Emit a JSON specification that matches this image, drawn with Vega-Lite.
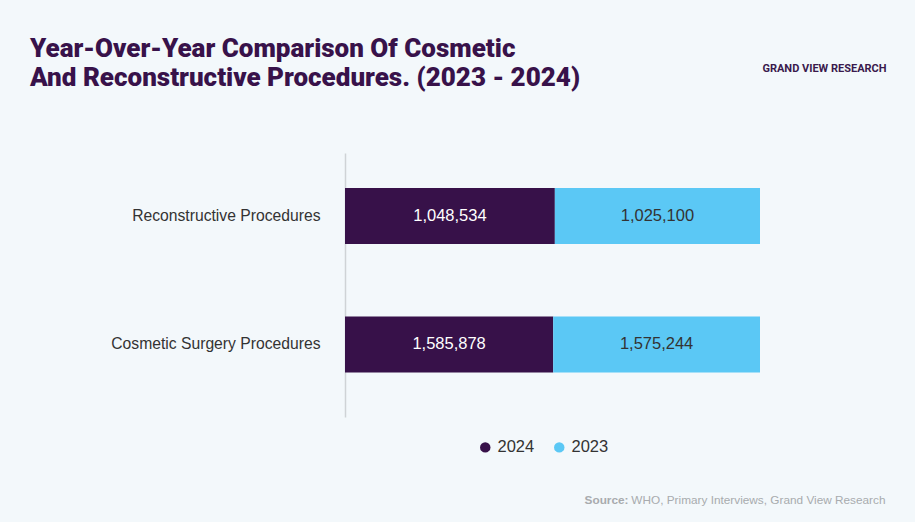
{
  "$schema": "https://vega.github.io/schema/vega-lite/v6.json",
  "autosize": "none",
  "width": 415,
  "height": 264,
  "padding": {"left": 345, "top": 153, "right": 155, "bottom": 105},
  "background": "#f3f8fb",
  "title": {
    "text": ["Year-Over-Year Comparison Of Cosmetic", "And Reconstructive Procedures. (2023 - 2024)"],
    "anchor": "start",
    "frame": "group",
    "font": "Roboto",
    "fontSize": 26,
    "fontWeight": 900,
    "color": "#38124a",
    "lineHeight": 29,
    "dx": -315,
    "dy": 33
  },
  "data": {
    "values": [
      {"procedure": "Reconstructive Procedures", "year": "2024", "value": 1048534},
      {"procedure": "Reconstructive Procedures", "year": "2023", "value": 1025100},
      {"procedure": "Cosmetic Surgery Procedures", "year": "2024", "value": 1585878},
      {"procedure": "Cosmetic Surgery Procedures", "year": "2023", "value": 1575244}
    ]
  },
  "transform": [
    {"stack": "value", "groupby": ["procedure"], "offset": "normalize", "sort": [{"field": "year", "order": "descending"}], "as": ["s0", "s1"]},
    {"calculate": "(datum.s0 + datum.s1) / 2", "as": "mid"}
  ],
  "encoding": {
    "y": {
      "field": "procedure",
      "type": "nominal",
      "sort": ["Reconstructive Procedures", "Cosmetic Surgery Procedures"],
      "scale": {"paddingInner": 0.564, "paddingOuter": 0.309, "align": 0.44},
      "axis": {
        "title": "GRAND VIEW RESEARCH",
        "titleAngle": 0,
        "titleX": 479,
        "titleY": -85,
        "titleAlign": "center",
        "titleBaseline": "middle",
        "titleFont": "Roboto",
        "titleFontSize": 11,
        "titleFontWeight": "bold",
        "titleColor": "#3a1a4d",
        "domain": true,
        "domainColor": "#cfd3d6",
        "domainWidth": 1.5,
        "ticks": false,
        "labelPadding": 25,
        "labelLimit": 300,
        "labelFont": "Liberation Sans",
        "labelFontSize": 15.7,
        "labelColor": "#333333"
      }
    }
  },
  "layer": [
    {
      "mark": {"type": "bar"},
      "encoding": {
        "x": {
          "field": "s0",
          "type": "quantitative",
          "scale": {"domain": [0, 1], "nice": false},
          "axis": {
            "orient": "bottom",
            "title": "WHO, Primary Interviews, Grand View Research",
            "titleX": 540,
            "titleY": 86,
            "titleAlign": "right",
            "titleBaseline": "alphabetic",
            "titleFont": "Liberation Sans",
            "titleFontSize": 11.8,
            "titleFontWeight": "normal",
            "titleColor": "#a8abae",
            "domain": false,
            "ticks": false,
            "labels": false,
            "grid": false
          }
        },
        "x2": {"field": "s1"},
        "color": {
          "field": "year",
          "type": "nominal",
          "sort": ["2024", "2023"],
          "scale": {"domain": ["2024", "2023"], "range": ["#371149", "#5bc8f5"]},
          "legend": {
            "orient": "none",
            "legendX": 132,
            "legendY": 286,
            "direction": "horizontal",
            "title": null,
            "symbolType": "circle",
            "symbolSize": 110,
            "symbolStrokeWidth": 0,
            "labelFont": "Liberation Sans",
            "labelFontSize": 16.5,
            "labelColor": "#333333",
            "columnPadding": 16
          }
        }
      }
    },
    {
      "mark": {"type": "text", "font": "Liberation Sans", "fontSize": 16.5},
      "encoding": {
        "x": {
          "field": "mid",
          "type": "quantitative",
          "axis": {
            "orient": "top",
            "title": "Source:",
            "titleX": 283,
            "titleY": 350,
            "titleAlign": "right",
            "titleBaseline": "alphabetic",
            "titleFont": "Liberation Sans",
            "titleFontSize": 11.8,
            "titleFontWeight": "bold",
            "titleColor": "#a8abae",
            "domain": false,
            "ticks": false,
            "labels": false,
            "grid": false
          }
        },
        "text": {"field": "value", "type": "quantitative", "format": ","},
        "color": {
          "condition": {"test": "datum.year === '2024'", "value": "#ffffff"},
          "value": "#333333"
        }
      }
    }
  ],
  "resolve": {"axis": {"x": "independent"}},
  "config": {
    "view": {"stroke": null}
  }
}
